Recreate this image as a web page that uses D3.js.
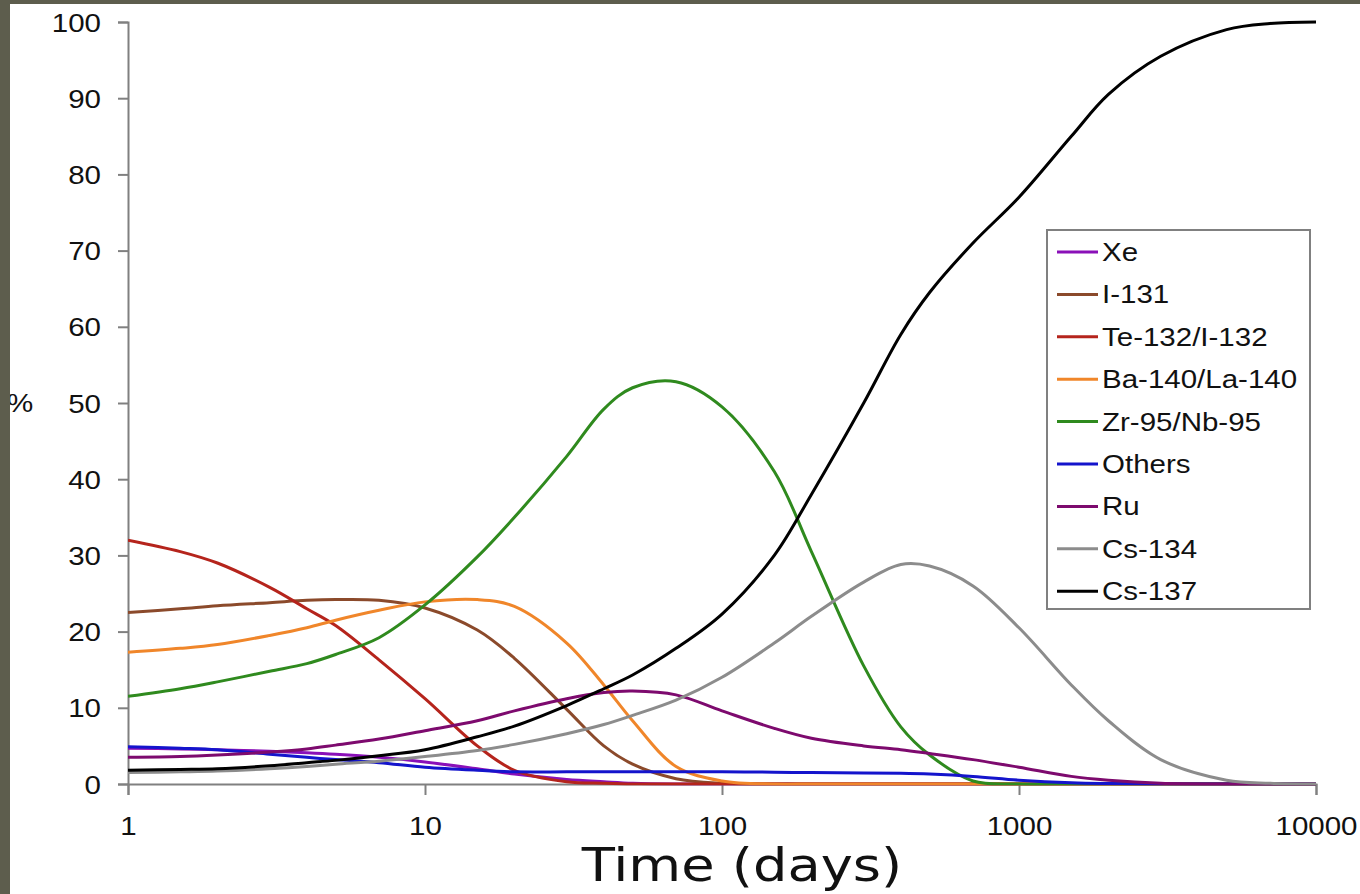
<!DOCTYPE html>
<html>
<head>
<meta charset="utf-8">
<script src="https://cdn.jsdelivr.net/npm/d3@7"></script>
<style>
  html, body { margin: 0; padding: 0; background: #fff; }
  svg { display: block; }
</style>
</head>
<body>
<svg id="chart" width="1360" height="894"></svg>
<script>
// ---- data ----
const days   = [1, 1.5, 2, 3, 4, 5, 7, 10, 15, 20, 30, 40, 50, 70, 100, 150, 200, 300, 400, 500, 700, 1000, 1500, 2000, 3000, 5000, 7000, 10000];
const xe     = [4.7, 4.6, 4.5, 4.3, 4.1, 3.9, 3.5, 2.9, 2.0, 1.3, 0.6, 0.3, 0.1, 0, 0, 0, 0, 0, 0, 0, 0, 0, 0, 0, 0, 0, 0, 0];
const i131   = [22.5, 23.0, 23.4, 23.8, 24.1, 24.2, 24.1, 23.1, 20.2, 16.5, 9.8, 5.0, 2.6, 0.7, 0.1, 0, 0, 0, 0, 0, 0, 0, 0, 0, 0, 0, 0, 0];
const te132  = [32, 30.5, 29, 25.8, 23, 20.8, 16.3, 11.2, 5, 1.8, 0.3, 0.1, 0, 0, 0, 0, 0, 0, 0, 0, 0, 0, 0, 0, 0, 0, 0, 0];
const ba140  = [17.3, 17.8, 18.3, 19.5, 20.5, 21.5, 22.8, 23.9, 24.2, 23.3, 18.5, 13, 8.3, 2.3, 0.4, 0, 0, 0, 0, 0, 0, 0, 0, 0, 0, 0, 0, 0];
const zr95   = [11.5, 12.5, 13.4, 14.8, 15.8, 17, 19.2, 23.5, 29.8, 35, 43, 49.2, 52, 52.8, 49.5, 41, 30.5, 15.5, 7.5, 3.8, 0.4, 0, 0, 0, 0, 0, 0, 0];
const others = [4.9, 4.7, 4.5, 3.9, 3.5, 3.2, 2.8, 2.2, 1.8, 1.6, 1.6, 1.6, 1.6, 1.6, 1.6, 1.55, 1.5, 1.45, 1.4, 1.3, 1.0, 0.5, 0.15, 0.05, 0, 0, 0, 0];
const ru     = [3.5, 3.6, 3.8, 4.2, 4.6, 5.1, 5.9, 7, 8.3, 9.6, 11.2, 12, 12.2, 11.7, 9.6, 7.3, 6, 5, 4.5, 4, 3.2, 2.2, 1, 0.5, 0.1, 0, 0, 0];
const cs134  = [1.5, 1.6, 1.7, 2, 2.3, 2.6, 3, 3.6, 4.4, 5.2, 6.6, 7.8, 9, 11, 14, 18.5, 22, 26.5, 28.8, 28.6, 26, 20.5, 13, 8.3, 3.2, 0.5, 0.1, 0];
const cs137  = [1.8, 1.9, 2.0, 2.4, 2.8, 3.1, 3.7, 4.5, 6.2, 7.6, 10.3, 12.5, 14.3, 17.8, 22.3, 30, 38, 50, 59, 64.5, 71, 77, 85, 90.5, 95.5, 99, 99.8, 100];

const seriesNames = ["Xe", "I-131", "Te-132/I-132", "Ba-140/La-140", "Zr-95/Nb-95", "Others", "Ru", "Cs-134", "Cs-137"];
const seriesValues = [xe, i131, te132, ba140, zr95, others, ru, cs134, cs137];
const seriesColors = ["#8a10b8", "#8b4a2b", "#b5241c", "#f0862a", "#2f8a1e", "#1414cc", "#7d0a6e", "#8c8c8c", "#000000"];

const xTicks = [1, 10, 100, 1000, 10000];
const yTicks = [0, 10, 20, 30, 40, 50, 60, 70, 80, 90, 100];

// ---- layout ----
const svg = d3.select("#chart");
const X0 = 128, X1 = 1316, Y0 = 784, Y1 = 22;
const SX = 1.18; // horizontal stretch of the text in the reference
const x = d3.scaleLog().domain([1, 10000]).range([X0, X1]);
const y = d3.scaleLinear().domain([0, 100]).range([Y0, Y1]);

svg.append("rect").attr("width", 1360).attr("height", 894).attr("fill", "#fff");

svg.append("defs").append("clipPath").attr("id", "plotclip")
  .append("rect").attr("x", X0).attr("y", Y1 - 5).attr("width", X1 - X0 + 2).attr("height", Y0 - Y1 + 6.5);

const axisColor = "#808080";
const font = "'Liberation Sans', Arial, sans-serif";

// y axis
const gy = svg.append("g").attr("transform", `translate(${X0},0)`)
  .call(d3.axisLeft(y).tickValues(yTicks).tickSize(10).tickSizeOuter(10).tickPadding(12.9));
gy.select(".domain").attr("stroke", axisColor).attr("stroke-width", 2);
gy.selectAll(".tick line").attr("stroke", axisColor).attr("stroke-width", 2);
gy.selectAll(".tick text").attr("font-family", font).attr("font-size", 25)
  .attr("fill", "#111").attr("dy", "0.36em").attr("transform", `scale(${SX},1)`);

// x axis
const gx = svg.append("g").attr("transform", `translate(0,${Y0})`)
  .call(d3.axisBottom(x).tickValues(xTicks).tickFormat(d3.format("d")).tickSize(11).tickSizeOuter(11).tickPadding(22));
gx.select(".domain").attr("stroke", axisColor).attr("stroke-width", 2);
gx.selectAll(".tick line").attr("stroke", axisColor).attr("stroke-width", 2);
gx.selectAll(".tick text").attr("font-family", font).attr("font-size", 25)
  .attr("fill", "#111").attr("transform", `scale(${SX},1)`);

// lines
const line = d3.line()
  .x(d => x(d[0]))
  .y(d => y(d[1]))
  .curve(d3.curveCatmullRom.alpha(0.5));

svg.append("g").attr("clip-path", "url(#plotclip)").selectAll("path")
  .data(seriesValues.map((vals, i) => ({ name: seriesNames[i], color: seriesColors[i], pts: days.map((t, j) => [t, vals[j]]) })))
  .join("path")
  .attr("d", d => line(d.pts))
  .attr("fill", "none")
  .attr("stroke", d => d.color)
  .attr("stroke-width", 3)
  .attr("stroke-linejoin", "round");

// axis titles
svg.append("text")
  .attr("transform", `translate(742,881) scale(${SX},1)`)
  .attr("text-anchor", "middle")
  .attr("font-family", "'DejaVu Sans', Verdana, sans-serif")
  .attr("font-size", 46)
  .attr("fill", "#111")
  .text("Time (days)");

svg.append("text")
  .attr("transform", `translate(7,412) scale(${SX},1)`)
  .attr("font-family", font)
  .attr("font-size", 25)
  .attr("fill", "#111")
  .text("%");

// legend
const lg = svg.append("g");
lg.append("rect").attr("x", 1047).attr("y", 230).attr("width", 263).attr("height", 379)
  .attr("fill", "#fff").attr("stroke", axisColor).attr("stroke-width", 2);
const legendStep = 42.4;
const items = lg.selectAll("g.item").data(seriesNames.map((n, i) => ({ name: n, color: seriesColors[i], i })))
  .join("g").attr("class", "item")
  .attr("transform", d => `translate(0,${252 + d.i * legendStep})`);
items.append("line").attr("x1", 1057).attr("x2", 1098).attr("y1", 0).attr("y2", 0)
  .attr("stroke", d => d.color).attr("stroke-width", 3);
items.append("text")
  .attr("transform", `translate(1102,9) scale(${SX},1)`)
  .attr("font-family", font).attr("font-size", 25).attr("fill", "#111")
  .text(d => d.name);

// dark frame of the slide (top and left edges)
svg.append("rect").attr("x", 0).attr("y", 0).attr("width", 1360).attr("height", 4).attr("fill", "#5d5d4d");
svg.append("rect").attr("x", 0).attr("y", 0).attr("width", 10).attr("height", 894).attr("fill", "#5d5d4d");
</script>
</body>
</html>
